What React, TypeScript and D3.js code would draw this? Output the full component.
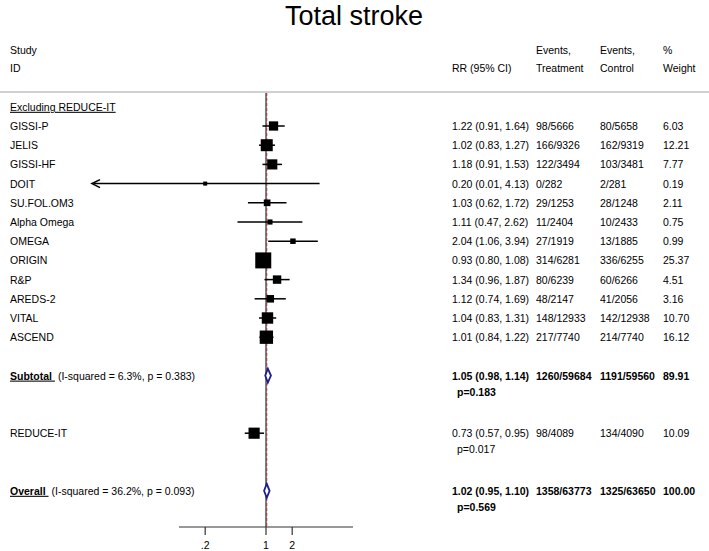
import React from "react";
import * as d3 from "d3";

const studies = ["GISSI-P", "JELIS", "GISSI-HF", "DOIT", "SU.FOL.OM3", "Alpha Omega", "OMEGA", "ORIGIN", "R&P", "AREDS-2", "VITAL", "ASCEND"];
const rr = [1.22, 1.02, 1.18, 0.20, 1.03, 1.11, 2.04, 0.93, 1.34, 1.12, 1.04, 1.01];
const lci = [0.91, 0.83, 0.91, 0.01, 0.62, 0.47, 1.06, 0.80, 0.96, 0.74, 0.83, 0.84];
const uci = [1.64, 1.27, 1.53, 4.13, 1.72, 2.62, 3.94, 1.08, 1.87, 1.69, 1.31, 1.22];
const evTreat = ["98/5666", "166/9326", "122/3494", "0/282", "29/1253", "11/2404", "27/1919", "314/6281", "80/6239", "48/2147", "148/12933", "217/7740"];
const evCtrl = ["80/5658", "162/9319", "103/3481", "2/281", "28/1248", "10/2433", "13/1885", "336/6255", "60/6266", "41/2056", "142/12938", "214/7740"];
const weights = [6.03, 12.21, 7.77, 0.19, 2.11, 0.75, 0.99, 25.37, 4.51, 3.16, 10.70, 16.12];

const subtotal = { rr: 1.05, lci: 0.98, uci: 1.14, text: "1.05 (0.98, 1.14)", p: "p=0.183", t: "1260/59684", c: "1191/59560", w: "89.91", het: "(I-squared = 6.3%, p = 0.383)" };
const reduceIt = { name: "REDUCE-IT", rr: 0.73, lci: 0.57, uci: 0.95, text: "0.73 (0.57, 0.95)", p: "p=0.017", t: "98/4089", c: "134/4090", w: 10.09 };
const overall = { rr: 1.02, lci: 0.95, uci: 1.10, text: "1.02 (0.95, 1.10)", p: "p=0.569", t: "1358/63773", c: "1325/63650", w: "100.00", het: "(I-squared = 36.2%, p = 0.093)" };

const tickValues = [0.2, 1, 2];
const tickLabels = [".2", "1", "2"];

const fmt = (v: number) => v.toFixed(2);

export default function App() {
  const W = 709, H = 551;
  const x = d3.scaleLog().domain([0.1, 10]).range([179, 353]);
  const rowY = (i: number) => 126 + i * 19.2;
  const boxSize = d3.scaleLinear().domain([0, Math.sqrt(25.37)]).range([2.9, 16]);
  const font = "'Liberation Sans', Arial, sans-serif";
  const fs = 10.5;
  const colRR = 452, colT = 536, colC = 600, colW = 663;
  const axisY = 527;
  const diamond = (rrv: number, lo: number, hi: number, cy: number) =>
    `M${x(lo)},${cy} L${x(rrv)},${cy - 7} L${x(hi)},${cy} L${x(rrv)},${cy + 7} Z`;

  const studyRow = (name: string, r: number, lo: number, hi: number, t: string, c: string, w: number, i: number, key: string) => {
    const cy = rowY(i);
    const s = boxSize(Math.sqrt(w));
    const arrowLeft = lo < 0.1;
    return (
      <g key={key}>
        <text x={10} y={cy + 4} fontSize={fs}>{name}</text>
        <line x1={x(lo) + (arrowLeft ? 2 : 0)} x2={x(hi)} y1={cy} y2={cy} stroke="#000" strokeWidth={1.5} />
        {arrowLeft && (
          <path d={`M${x(lo) + 8},${cy - 4} L${x(lo)},${cy} L${x(lo) + 8},${cy + 4}`} fill="none" stroke="#000" strokeWidth={1.6} />
        )}
        <rect x={x(r) - s / 2} y={cy - s / 2} width={s} height={s} fill="#000" />
        <text x={colRR} y={cy + 4} fontSize={fs}>{`${fmt(r)} (${fmt(lo)}, ${fmt(hi)})`}</text>
        <text x={colT} y={cy + 4} fontSize={fs}>{t}</text>
        <text x={colC} y={cy + 4} fontSize={fs}>{c}</text>
        <text x={colW} y={cy + 4} fontSize={fs}>{fmt(w)}</text>
      </g>
    );
  };

  const subY = rowY(13);
  const redY = rowY(16);
  const ovY = rowY(19);

  return (
    <svg width={W} height={H} style={{ position: "absolute", left: 0, top: 0, background: "#fff" }} fontFamily={font} fill="#000">
      <rect width={W} height={H} fill="#fff" />
      <text x={354} y={25} fontSize={27} textAnchor="middle">Total stroke</text>
      <text x={10} y={54} fontSize={fs}>Study</text>
      <text x={10} y={72} fontSize={fs}>ID</text>
      <text x={colRR} y={72} fontSize={fs}>RR (95% CI)</text>
      <text x={colT} y={54} fontSize={fs}>Events,</text>
      <text x={colT} y={72} fontSize={fs}>Treatment</text>
      <text x={colC} y={54} fontSize={fs}>Events,</text>
      <text x={colC} y={72} fontSize={fs}>Control</text>
      <text x={colW} y={54} fontSize={fs}>%</text>
      <text x={colW} y={72} fontSize={fs}>Weight</text>
      <line x1={0} x2={W} y1={92} y2={92} stroke="#d0d0d0" strokeWidth={2} />

      <line x1={x(1)} x2={x(1)} y1={93} y2={axisY} stroke="#000" strokeWidth={1} />
      <line x1={x(overall.rr)} x2={x(overall.rr)} y1={93} y2={axisY} stroke="#a03a3a" strokeWidth={1} strokeDasharray="3,2" />

      <text x={10} y={rowY(-1) + 4} fontSize={fs} textDecoration="underline">Excluding REDUCE-IT</text>

      {studies.map((s, i) => studyRow(s, rr[i], lci[i], uci[i], evTreat[i], evCtrl[i], weights[i], i, s))}

      <text x={10} y={subY + 4} fontSize={fs}>
        <tspan fontWeight="bold" textDecoration="underline">Subtotal </tspan>
        <tspan dx={3}>{subtotal.het}</tspan>
      </text>
      <path d={diamond(subtotal.rr, subtotal.lci, subtotal.uci, subY)} fill="#fff" stroke="#1e1e8c" strokeWidth={1.8} />
      <g fontWeight="bold">
        <text x={colRR} y={subY + 4} fontSize={fs}>{subtotal.text}</text>
        <text x={colRR + 5} y={subY + 20} fontSize={fs}>{subtotal.p}</text>
        <text x={colT} y={subY + 4} fontSize={fs}>{subtotal.t}</text>
        <text x={colC} y={subY + 4} fontSize={fs}>{subtotal.c}</text>
        <text x={colW} y={subY + 4} fontSize={fs}>{subtotal.w}</text>
      </g>

      {(() => {
        const s = boxSize(Math.sqrt(reduceIt.w));
        return (
          <g>
            <text x={10} y={redY + 4} fontSize={fs}>{reduceIt.name}</text>
            <line x1={x(reduceIt.lci)} x2={x(reduceIt.uci)} y1={redY} y2={redY} stroke="#000" strokeWidth={1.5} />
            <rect x={x(reduceIt.rr) - s / 2} y={redY - s / 2} width={s} height={s} fill="#000" />
            <text x={colRR} y={redY + 4} fontSize={fs}>{reduceIt.text}</text>
            <text x={colRR + 5} y={redY + 20} fontSize={fs}>{reduceIt.p}</text>
            <text x={colT} y={redY + 4} fontSize={fs}>{reduceIt.t}</text>
            <text x={colC} y={redY + 4} fontSize={fs}>{reduceIt.c}</text>
            <text x={colW} y={redY + 4} fontSize={fs}>{fmt(reduceIt.w)}</text>
          </g>
        );
      })()}

      <text x={10} y={ovY + 4} fontSize={fs}>
        <tspan fontWeight="bold" textDecoration="underline">Overall </tspan>
        <tspan dx={3}>{overall.het}</tspan>
      </text>
      <path d={diamond(overall.rr, overall.lci, overall.uci, ovY)} fill="#fff" stroke="#1e1e8c" strokeWidth={1.8} />
      <g fontWeight="bold">
        <text x={colRR} y={ovY + 4} fontSize={fs}>{overall.text}</text>
        <text x={colRR + 5} y={ovY + 20} fontSize={fs}>{overall.p}</text>
        <text x={colT} y={ovY + 4} fontSize={fs}>{overall.t}</text>
        <text x={colC} y={ovY + 4} fontSize={fs}>{overall.c}</text>
        <text x={colW} y={ovY + 4} fontSize={fs}>{overall.w}</text>
      </g>

      <line x1={x(0.1)} x2={x(10)} y1={axisY} y2={axisY} stroke="#333" strokeWidth={1.2} />
      {tickValues.map((v, i) => (
        <g key={v}>
          <line x1={x(v)} x2={x(v)} y1={axisY} y2={axisY + 8} stroke="#333" strokeWidth={1.2} />
          <text x={x(v)} y={axisY + 22} fontSize={fs} textAnchor="middle">{tickLabels[i]}</text>
        </g>
      ))}
    </svg>
  );
}
